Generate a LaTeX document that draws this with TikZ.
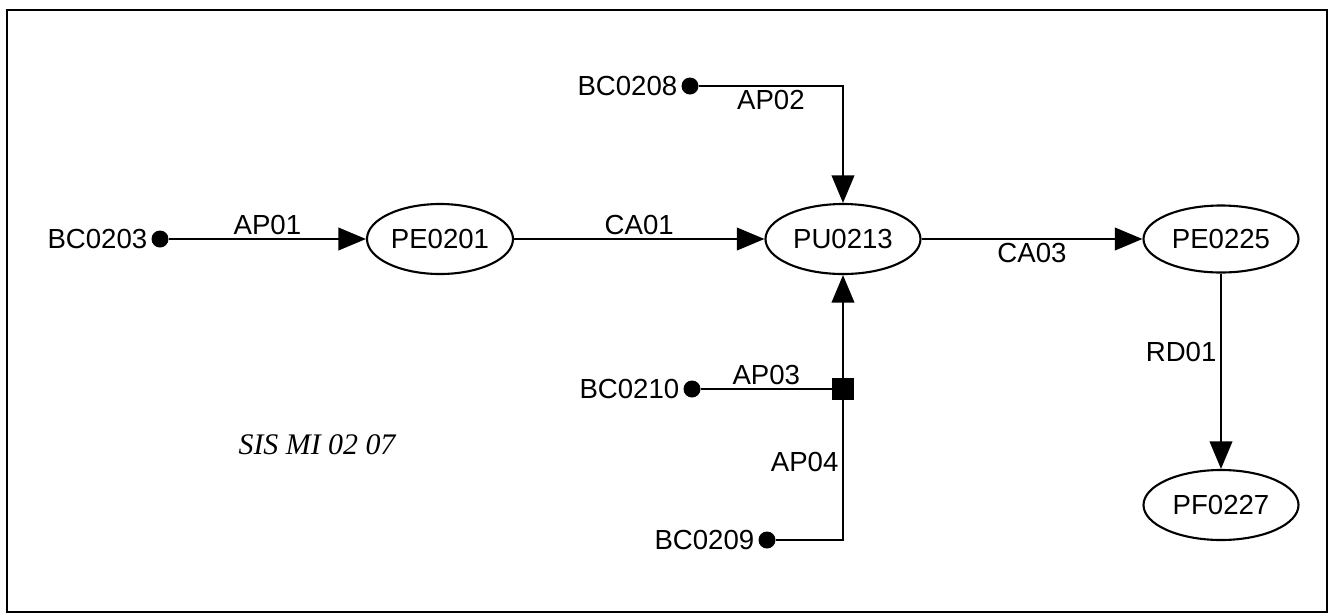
\documentclass[tikz,border=0pt]{standalone}
\usepackage{fontspec}
\setmainfont{Liberation Sans}
\newfontfamily\capfont{Liberation Serif}
\usetikzlibrary{arrows.meta,shapes.geometric,positioning}

\begin{document}
\begin{tikzpicture}[x=0.2mm, y=-0.2mm]
\tikzset{proc/.style={draw, ellipse, line width=1.2pt, minimum width=3.1cm, minimum height=1.4cm, inner sep=0pt, font=\fontsize{15.7}{18}\selectfont},
  src/.style={circle, fill, inner sep=0pt, minimum size=0.34cm, label distance=1pt},
  junc/.style={rectangle, fill, inner sep=0pt, minimum size=0.44cm},
  flow/.style={line width=1.2pt, -{Triangle[length=5.5mm, width=4.5mm]}},
  wire/.style={line width=1.2pt},
  tag/.style={font=\fontsize{15.7}{18}\selectfont, inner sep=2pt}}
\useasboundingbox (0,0) rectangle (1336,615);
\draw[line width=1.6pt] (7,10) rectangle (1327,612);
% processes
\node[proc, minimum width=2.92cm] (pe01) at (440,239) {PE0201};
\node[proc] (pu13) at (843,239) {PU0213};
\node[proc, minimum height=1.34cm] (pe25) at (1221,239) {PE0225};
\node[proc] (pf27) at (1221,505) {PF0227};
% sources
\node[src, label={[tag]left:BC0203}] (b03) at (160,239) {};
\node[src, label={[tag]left:BC0208}] (b08) at (690,86) {};
\node[src, label={[tag]left:BC0210}] (b10) at (692,389) {};
\node[src, label={[tag]left:BC0209}] (b09) at (767,540) {};
\node[junc] (jn) at (843,389) {};
% flows
\draw[flow] (b03) -- node[tag, above] {AP01} (pe01);
\draw[flow] (pe01) -- node[tag, above] {CA01} (pu13);
\draw[flow] (b08) -| node[tag, below, pos=0.25] {AP02} (pu13);
\draw[wire] (b10) -- node[tag, above] {AP03} (jn);
\draw[wire] (b09) -| node[tag, left, pos=0.78] {AP04} (jn);
\draw[flow] (jn) -- (pu13);
\draw[flow] (pu13) -- node[tag, below] {CA03} (pe25);
\draw[flow] (pe25) -- node[tag, left, pos=0.4] {RD01} (pf27);
\node[font=\capfont\itshape\fontsize{17}{20}\selectfont] (cap) at (317,445) {SIS MI 02 07};
\end{tikzpicture}
\end{document}
